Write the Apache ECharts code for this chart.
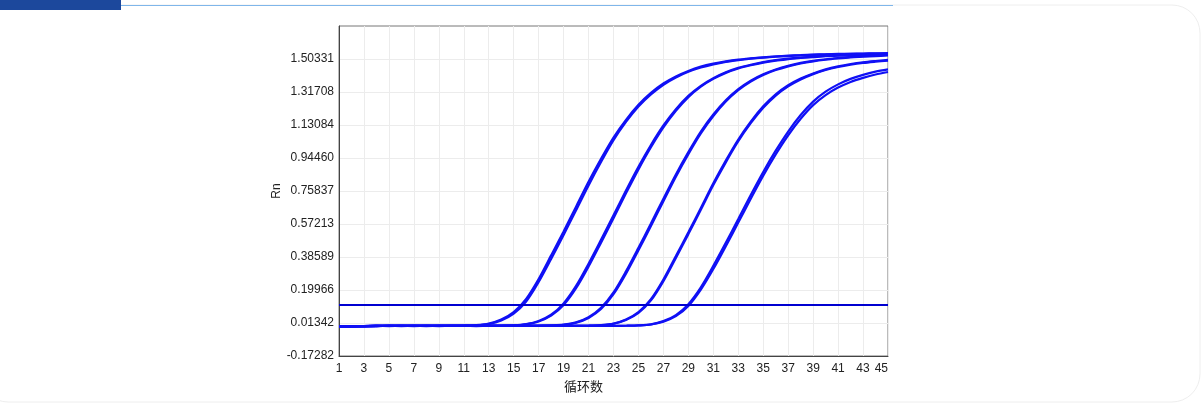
<!DOCTYPE html>
<html>
<head>
<meta charset="utf-8">
<script src="https://cdn.jsdelivr.net/npm/echarts@6/dist/echarts.min.js"></script>
<style>
html,body{margin:0;padding:0;background:#ffffff;}
#chart{width:1202px;height:404px;}
</style>
</head>
<body>
<div id="chart"></div>
<script>
// ---- data ----
const CYCLES = [1,2,3,4,5,6,7,8,9,10,11,12,13,14,15,16,17,18,19,20,21,22,23,24,25,26,27,28,29,30,31,32,33,34,35,36,37,38,39,40,41,42,43,44,45];
const X_TICKS = [1,3,5,7,9,11,13,15,17,19,21,23,25,27,29,31,33,35,37,39,41,43,45];
const Y_TICKS = [-0.172816,0.0134206,0.1996572,0.3858938,0.5721304,0.758367,0.9446036,1.1308402,1.3170768,1.5033134];
const Y_LABELS = ['-0.17282','0.01342','0.19966','0.38589','0.57213','0.75837','0.94460','1.13084','1.31708','1.50331'];
const Y_MAX = 1.68955;
const THRESHOLD = 0.115;

const G1a = [-0.008,-0.006,-0.004,-0.003,-0.003,-0.003,-0.003,-0.003,-0.003,-0.003,-0.002,0.001,0.010,0.033,0.075,0.150,0.262,0.395,0.530,0.670,0.810,0.940,1.060,1.160,1.245,1.312,1.365,1.405,1.436,1.460,1.477,1.490,1.500,1.507,1.513,1.518,1.522,1.525,1.528,1.530,1.532,1.533,1.534,1.535,1.536];
const G1b = [-0.006,-0.005,-0.004,-0.004,-0.003,-0.003,-0.004,-0.003,-0.003,-0.003,-0.002,0.000,0.008,0.028,0.067,0.135,0.245,0.375,0.510,0.650,0.790,0.922,1.045,1.148,1.235,1.303,1.358,1.399,1.431,1.455,1.473,1.487,1.497,1.505,1.511,1.516,1.520,1.524,1.527,1.529,1.531,1.532,1.533,1.534,1.535];
const G2a = [-0.008,-0.006,-0.004,-0.003,-0.003,-0.003,-0.003,-0.003,-0.003,-0.003,-0.003,-0.003,-0.002,-0.002,0.000,0.007,0.025,0.060,0.124,0.223,0.348,0.483,0.621,0.761,0.895,1.018,1.128,1.220,1.295,1.352,1.395,1.428,1.453,1.471,1.486,1.497,1.505,1.511,1.516,1.521,1.524,1.527,1.529,1.531,1.533];
const G2b = [-0.007,-0.005,-0.004,-0.003,-0.003,-0.004,-0.003,-0.003,-0.003,-0.003,-0.003,-0.003,-0.003,-0.002,-0.001,0.006,0.022,0.055,0.115,0.210,0.332,0.467,0.605,0.745,0.880,1.005,1.117,1.211,1.288,1.347,1.391,1.425,1.450,1.468,1.483,1.494,1.502,1.509,1.514,1.519,1.522,1.525,1.527,1.529,1.531];
const G3a = [-0.008,-0.006,-0.004,-0.003,-0.003,-0.003,-0.003,-0.003,-0.003,-0.003,-0.003,-0.003,-0.003,-0.003,-0.003,-0.003,-0.002,0.000,0.004,0.017,0.046,0.099,0.186,0.305,0.438,0.575,0.715,0.852,0.978,1.094,1.190,1.270,1.333,1.381,1.417,1.444,1.465,1.481,1.493,1.502,1.509,1.515,1.519,1.523,1.526];
const G3b = [-0.007,-0.006,-0.004,-0.004,-0.003,-0.003,-0.003,-0.004,-0.003,-0.003,-0.003,-0.003,-0.003,-0.003,-0.003,-0.003,-0.002,-0.001,0.003,0.015,0.042,0.092,0.176,0.292,0.424,0.561,0.701,0.839,0.966,1.083,1.181,1.263,1.327,1.376,1.413,1.441,1.462,1.478,1.490,1.499,1.506,1.512,1.516,1.520,1.523];
const G4a = [-0.008,-0.006,-0.004,-0.003,-0.003,-0.003,-0.003,-0.003,-0.003,-0.003,-0.003,-0.003,-0.003,-0.003,-0.003,-0.003,-0.003,-0.003,-0.003,-0.003,-0.002,0.001,0.010,0.033,0.075,0.148,0.259,0.391,0.525,0.663,0.802,0.930,1.049,1.150,1.236,1.304,1.355,1.393,1.422,1.445,1.462,1.475,1.485,1.492,1.498];
const G4b = [-0.007,-0.006,-0.005,-0.004,-0.003,-0.003,-0.003,-0.003,-0.004,-0.003,-0.003,-0.003,-0.003,-0.003,-0.003,-0.003,-0.003,-0.003,-0.003,-0.003,-0.002,0.001,0.009,0.030,0.070,0.141,0.250,0.381,0.515,0.653,0.792,0.920,1.039,1.141,1.228,1.297,1.349,1.388,1.418,1.441,1.458,1.471,1.481,1.488,1.494];
const G5a = [-0.008,-0.006,-0.004,-0.003,-0.003,-0.003,-0.003,-0.003,-0.003,-0.003,-0.003,-0.003,-0.003,-0.003,-0.003,-0.003,-0.003,-0.003,-0.003,-0.003,-0.003,-0.003,-0.003,-0.002,0.000,0.006,0.024,0.058,0.120,0.215,0.336,0.466,0.600,0.736,0.866,0.986,1.094,1.187,1.263,1.319,1.360,1.391,1.414,1.432,1.445];
const G5b = [-0.007,-0.005,-0.004,-0.003,-0.004,-0.003,-0.003,-0.003,-0.003,-0.003,-0.003,-0.004,-0.003,-0.003,-0.003,-0.003,-0.003,-0.003,-0.003,-0.003,-0.003,-0.003,-0.003,-0.002,0.000,0.005,0.021,0.052,0.110,0.202,0.318,0.447,0.580,0.715,0.845,0.965,1.073,1.166,1.243,1.300,1.342,1.374,1.397,1.416,1.430];

const CURVES = [G1a,G1b,G2a,G2b,G3a,G3b,G4a,G4b,G5a,G5b];

// ---- chart ----
const chart = echarts.init(document.getElementById('chart'), null, {renderer:'canvas'});
const FONT = '"Liberation Sans", Arial, sans-serif';

function yLabel(v){
  let best = 0, bd = Infinity;
  Y_TICKS.forEach((t,i)=>{ const d=Math.abs(t-v); if(d<bd){bd=d;best=i;} });
  return bd < 0.01 ? Y_LABELS[best] : '';
}

const series = CURVES.map((vals, k) => ({
  type: 'line',
  name: 'curve' + k,
  data: CYCLES.map((c,i)=>[c, vals[i]]),
  showSymbol: false,
  smooth: 0.3,
  lineStyle: {color: '#1010f5', width: 2.2},
  silent: true,
  z: 3
}));
series.push({
  type: 'line',
  name: 'threshold',
  data: [[CYCLES[0], THRESHOLD],[CYCLES[CYCLES.length-1], THRESHOLD]],
  showSymbol: false,
  lineStyle: {color: '#0000d0', width: 2},
  silent: true,
  z: 4
});

chart.setOption({
  animation: false,
  backgroundColor: '#ffffff',
  graphic: [
    {type:'rect', shape:{x:-20, y:5, width:1220, height:397, r:28}, style:{fill:'#ffffff', stroke:'#eeeeee', lineWidth:1}, z:-10, silent:true},
    {type:'line', shape:{x1:121, y1:5.5, x2:893, y2:5.5}, style:{stroke:'#7fb6ea', lineWidth:1}, z:-5, silent:true},
    {type:'rect', shape:{x:0, y:0, width:121, height:10}, style:{fill:'#1c489c'}, z:-5, silent:true}
  ],
  grid: {left:339, top:26, right:314, bottom:48, show:true, borderColor:'#777777', borderWidth:1, backgroundColor:'transparent'},
  xAxis: {
    type:'value', min: CYCLES[0], max: CYCLES[CYCLES.length-1], interval: 2,
    name: '循环数', nameLocation:'middle', nameGap: 17,
    nameTextStyle: {fontFamily:'"Noto Sans CJK SC", sans-serif', fontSize:13, color:'#222', padding:[0,60,0,0]},
    axisLine: {show:true, onZero:false, lineStyle:{color:'#444', width:1}},
    axisTick: {show:false, customValues: X_TICKS},
    axisLabel: {customValues: X_TICKS, fontFamily: FONT, fontSize:12, color:'#222', margin:7, alignMaxLabel:'right'},
    splitLine: {show:true, lineStyle:{color:'#ececec', width:1}}
  },
  yAxis: {
    type:'value', min: Y_TICKS[0], max: Y_MAX, interval: Y_TICKS[1]-Y_TICKS[0],
    name: 'Rn', nameLocation:'middle', nameGap: 52, nameRotate: 90,
    nameTextStyle: {fontFamily: FONT, fontSize:12, color:'#222'},
    axisLine: {show:true, onZero:false, lineStyle:{color:'#444', width:1}},
    axisTick: {show:false, customValues: Y_TICKS},
    axisLabel: {customValues: Y_TICKS, fontFamily: FONT, fontSize:12, color:'#222', margin:5, formatter: yLabel},
    splitLine: {show:true, lineStyle:{color:'#ececec', width:1}}
  },
  series: series
});
</script>
</body>
</html>
